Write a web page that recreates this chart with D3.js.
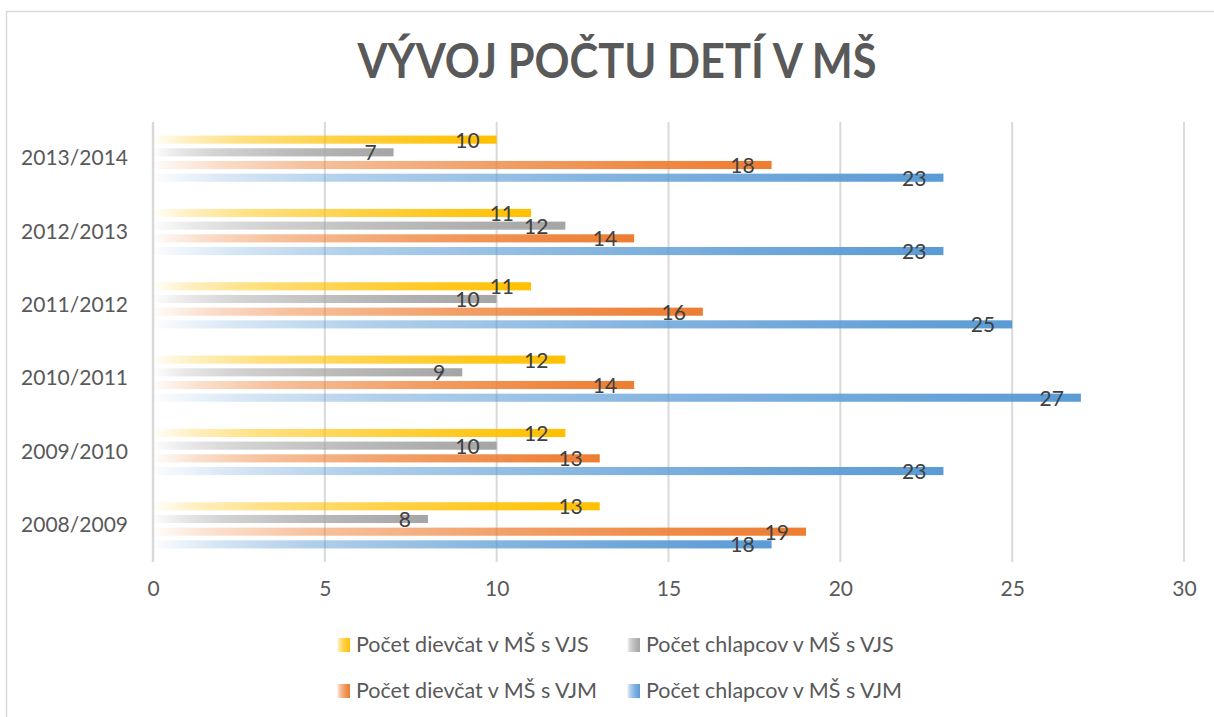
<!DOCTYPE html>
<html>
<head>
<meta charset="utf-8">
<script src="https://cdn.jsdelivr.net/npm/d3@7"></script>
<style>
  body { margin: 0; background: #fff; }
  text { font-family: Lato, "Open Sans", sans-serif; }
</style>
</head>
<body>
<svg id="chart" width="1214" height="717"></svg>
<script>
// data
const years = ["2013/2014", "2012/2013", "2011/2012", "2010/2011", "2009/2010", "2008/2009"];
const series = ["Počet dievčat v MŠ s VJS", "Počet chlapcov v MŠ s VJS", "Počet dievčat v MŠ s VJM", "Počet chlapcov v MŠ s VJM"];
const girlsVJS = [10, 11, 11, 12, 12, 13];
const boysVJS = [7, 12, 10, 9, 10, 8];
const girlsVJM = [18, 14, 16, 14, 13, 19];
const boysVJM = [23, 23, 25, 27, 23, 18];
const xTicks = [0, 5, 10, 15, 20, 25, 30];

const values = [girlsVJS, boysVJS, girlsVJM, boysVJM];
const colors = ["#FFC000", "#A5A5A5", "#ED7D31", "#5B9BD5"];

const svg = d3.select("#chart");

// chart border (left + top)
svg.append("path")
    .attr("d", "M6.5,717 V11.5 H1214")
    .attr("fill", "none")
    .attr("stroke", "#d9d9d9")
    .attr("stroke-width", 1.5);

// gradients: pale on the left, full colour at the bar end
const defs = svg.append("defs");
colors.forEach((c, i) => {
  const g = defs.append("linearGradient")
      .attr("id", "grad" + i)
      .attr("x1", "0%").attr("x2", "100%")
      .attr("y1", "0%").attr("y2", "0%");
  [[0, 0.02], [0.1, 0.25], [0.25, 0.48], [0.55, 0.74], [0.8, 0.9], [1, 1]].forEach(s => {
    g.append("stop")
        .attr("offset", s[0])
        .attr("stop-color", c)
        .attr("stop-opacity", s[1]);
  });
});

// title
svg.append("text")
    .attr("x", 617)
    .attr("y", 78)
    .attr("text-anchor", "middle")
    .attr("font-size", 47)
    .attr("font-weight", "bold")
    .attr("fill", "#595959")
    .attr("textLength", 519)
    .attr("lengthAdjust", "spacingAndGlyphs")
    .text("VÝVOJ POČTU DETÍ V MŠ");

const x = d3.scaleLinear().domain([0, 30]).range([153, 1184]);
const y0 = d3.scaleBand().domain(years).range([122, 562]).paddingInner(0.37).paddingOuter(0.185);
const y1 = d3.scaleBand().domain(d3.range(series.length)).range([0, y0.bandwidth()]).paddingInner(0.36);

// gridlines
svg.append("g")
  .selectAll("line")
  .data(xTicks)
  .join("line")
    .attr("x1", d => x(d)).attr("x2", d => x(d))
    .attr("y1", 122).attr("y2", 562)
    .attr("stroke", "#d9d9d9")
    .attr("stroke-width", d => d === 0 ? 2.5 : 2);

// x axis tick labels
const xAxis = svg.append("g")
    .attr("transform", "translate(0,562)")
    .call(d3.axisBottom(x).tickValues(xTicks).tickSize(0).tickPadding(19));
xAxis.select(".domain").remove();
xAxis.selectAll("text")
    .attr("font-size", 21)
    .attr("fill", "#595959")
    .style("font-family", "Lato, sans-serif");

// category labels
const yAxis = svg.append("g")
    .attr("transform", "translate(153,0)")
    .call(d3.axisLeft(y0).tickSize(0).tickPadding(25));
yAxis.select(".domain").remove();
yAxis.selectAll("text")
    .attr("font-size", 21)
    .attr("fill", "#595959")
    .style("font-family", "Lato, sans-serif");

// bars
const rows = [];
years.forEach((yr, j) => {
  values.forEach((arr, i) => rows.push({ yr, i, v: arr[j] }));
});

svg.append("g")
  .selectAll("rect")
  .data(rows)
  .join("rect")
    .attr("x", x(0))
    .attr("y", d => y0(d.yr) + y1(d.i))
    .attr("width", d => x(d.v) - x(0))
    .attr("height", y1.bandwidth())
    .attr("fill", d => `url(#grad${d.i})`);

// data labels
svg.append("g")
  .selectAll("text")
  .data(rows)
  .join("text")
    .attr("x", d => x(d.v) - 17)
    .attr("y", d => y0(d.yr) + y1(d.i) + y1.bandwidth() / 2 + 8)
    .attr("text-anchor", "end")
    .attr("font-size", 21)
    .attr("fill", "#404040")
    .text(d => d.v);

// legend
const legendPos = [[337, 645], [627, 645], [337, 691], [627, 691]];
const legend = svg.append("g")
  .selectAll("g")
  .data(series)
  .join("g")
    .attr("transform", (d, i) => `translate(${legendPos[i][0]},${legendPos[i][1]})`);
legend.append("rect")
    .attr("x", 0).attr("y", -7)
    .attr("width", 13).attr("height", 14)
    .attr("fill", (d, i) => `url(#grad${i})`);
legend.append("text")
    .attr("x", 19)
    .attr("y", 7)
    .attr("font-size", 21.5)
    .attr("fill", "#595959")
    .text(d => d);
</script>
</body>
</html>
